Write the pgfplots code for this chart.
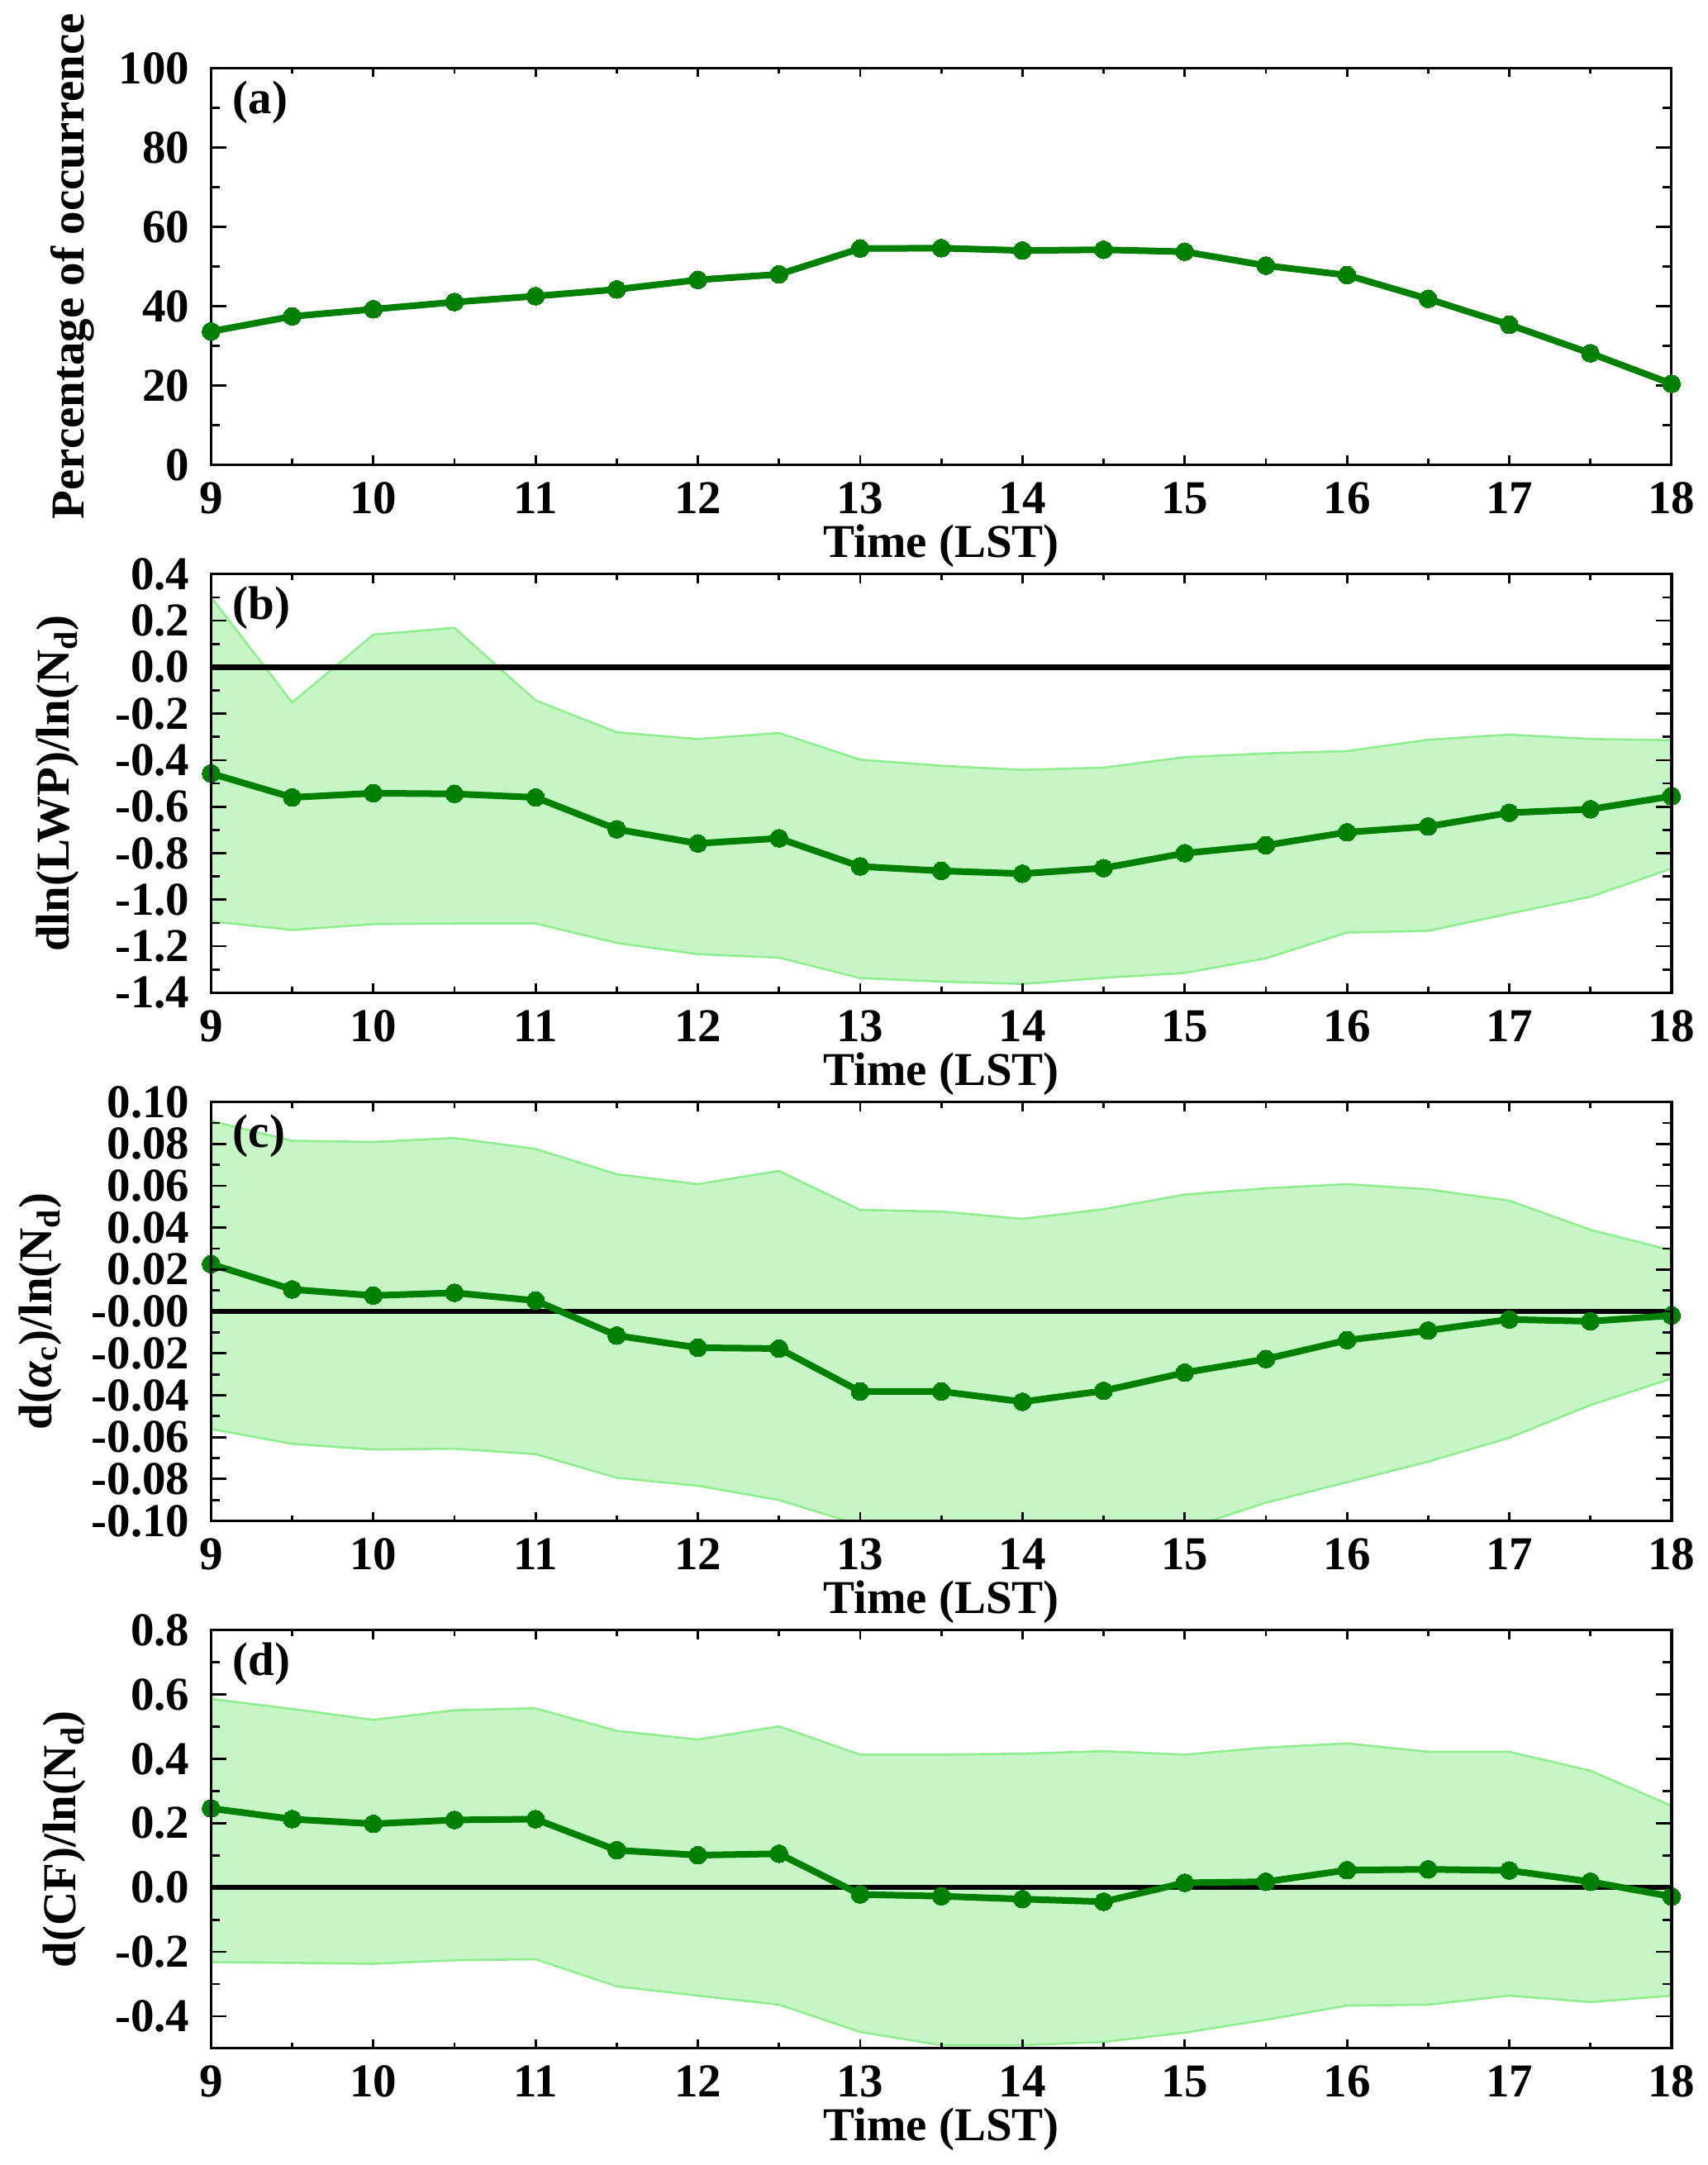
\documentclass[border=0pt]{standalone}
\usepackage{fontspec}
\setmainfont{Liberation Serif}
\usepackage{pgfplots}
\pgfplotsset{compat=1.18}
\usepackage{pgfplotstable}
\usepgfplotslibrary{fillbetween}

\definecolor{dgreen}{RGB}{0,128,0}
\definecolor{edgegreen}{RGB}{144,238,144}
\definecolor{fillgreen}{RGB}{198,246,198}

\newcommand{\bigfont}{\fontsize{28.5}{31}\selectfont\bfseries}

\pgfplotstableread{
t m
9 33.6
9.5 37.4
10 39.2
10.5 41.0
11 42.5
11.5 44.2
12 46.6
12.5 48.0
13 54.5
13.5 54.6
14 54.0
14.5 54.2
15 53.7
15.5 50.2
16 47.8
16.5 41.8
17 35.3
17.5 28.1
18 20.4
}\tba

\pgfplotstableread{
t m u l
9 -0.457 0.302 -1.093
9.5 -0.560 -0.152 -1.130
10 -0.542 0.140 -1.105
10.5 -0.545 0.169 -1.102
11 -0.560 -0.143 -1.102
11.5 -0.697 -0.280 -1.186
12 -0.758 -0.309 -1.234
12.5 -0.736 -0.283 -1.249
13 -0.857 -0.398 -1.337
13.5 -0.876 -0.424 -1.352
14 -0.888 -0.442 -1.362
14.5 -0.864 -0.432 -1.336
15 -0.800 -0.387 -1.315
15.5 -0.766 -0.371 -1.252
16 -0.710 -0.361 -1.141
16.5 -0.685 -0.312 -1.134
17 -0.626 -0.290 -1.060
17.5 -0.611 -0.309 -0.987
18 -0.555 -0.314 -0.866
}\tbb

\pgfplotstableread{
t m u l
9 0.0226 0.0910 -0.0561
9.5 0.0105 0.0815 -0.0632
10 0.0076 0.0809 -0.0659
10.5 0.0089 0.0828 -0.0655
11 0.0052 0.0776 -0.0681
11.5 -0.0115 0.0655 -0.0794
12 -0.0173 0.0608 -0.0832
12.5 -0.0177 0.0671 -0.0900
13 -0.0382 0.0485 -0.1020
13.5 -0.0382 0.0477 -0.1060
14 -0.0431 0.0442 -0.1090
14.5 -0.0379 0.0488 -0.1080
15 -0.0292 0.0558 -0.1040
15.5 -0.0227 0.0588 -0.0913
16 -0.0137 0.0608 -0.0815
16.5 -0.0091 0.0583 -0.0717
17 -0.0038 0.0529 -0.0603
17.5 -0.0047 0.0390 -0.0447
18 -0.0019 0.0292 -0.0320
}\tbc

\pgfplotstableread{
t m u l
9 0.246 0.586 -0.232
9.5 0.2125 0.555 -0.234
10 0.198 0.521 -0.237
10.5 0.210 0.551 -0.226
11 0.2125 0.557 -0.223
11.5 0.116 0.487 -0.307
12 0.1006 0.460 -0.336
12.5 0.105 0.501 -0.364
13 -0.0215 0.413 -0.449
13.5 -0.027 0.413 -0.490
14 -0.036 0.416 -0.490
14.5 -0.044 0.424 -0.480
15 0.0147 0.413 -0.451
15.5 0.018 0.435 -0.411
16 0.054 0.448 -0.367
16.5 0.0565 0.422 -0.364
17 0.053 0.422 -0.336
17.5 0.018 0.363 -0.356
18 -0.028 0.254 -0.336
}\tbd

\pgfplotsset{
  panel/.style={
    scale only axis, width=883.75pt,
    anchor=south west,
    xmin=9, xmax=18,
    xtick={9,10,11,12,13,14,15,16,17,18},
    xticklabels={9,10,11,12,13,14,15,16,17,18},
    minor x tick num=1, minor y tick num=1,
    axis on top,
    axis line style={line width=1.6pt, black},
    tick style={line width=1.4pt, black},
    major tick length=9.5pt, minor tick length=5.5pt,
    xtick style={/pgfplots/major tick length=5.5pt, /pgfplots/minor tick length=3.5pt},
    tick label style={font=\bigfont},
    label style={font=\bigfont},
    yticklabel style={xshift=-9.5pt},
    xticklabel style={yshift=-7pt},
    xlabel={Time (LST)},
    xlabel style={at={(axis description cs:0.5,0)}, anchor=base, yshift=-56pt},
  },
  meanline/.style={dgreen, line width=4pt, mark=*, mark size=5.4pt,
    mark options={solid, fill=dgreen, draw=dgreen, line width=0pt}},
  edgeline/.style={edgegreen, line width=1.3pt},
  zeroline/.style={black, line width=3.2pt},
}

\newcommand{\plab}[1]{\node[anchor=base west, inner sep=0pt, font=\bigfont] at ([xshift=13pt, yshift=-27.5pt]rel axis cs:0,1) {#1};}

\begin{document}
\begin{tikzpicture}
\path (0,0) rectangle (1033.5pt,1310pt);

% (a)
\begin{axis}[panel, at={(127.7pt,1028.8pt)}, height=240pt,
  ymin=0, ymax=100,
  ytick={0,20,40,60,80,100}, yticklabels={0,20,40,60,80,100},
  ylabel={Percentage of occurrence},
  ylabel style={at={(axis description cs:-0.0868,0.5)}, anchor=base},
]
\addplot[meanline] table[x=t, y=m]{\tba};
\plab{(a)}
\end{axis}

% (b)
\begin{axis}[panel, at={(127.7pt,709.3pt)}, height=253.3pt,
  ymin=-1.4, ymax=0.4,
  ytick={-1.4,-1.2,-1.0,-0.8,-0.6,-0.4,-0.2,0,0.2,0.4},
  yticklabels={-1.4,-1.2,-1.0,-0.8,-0.6,-0.4,-0.2,0.0,0.2,0.4},
  ylabel={dln(LWP)/ln(N\textsubscript{d})},
  ylabel style={at={(axis description cs:-0.0975,0.5)}, anchor=base},
]
\addplot[edgeline, name path=U] table[x=t, y=u]{\tbb};
\addplot[edgeline, name path=L] table[x=t, y=l]{\tbb};
\addplot[fill=fillgreen, draw=none] fill between[of=U and L];
\addplot[zeroline] coordinates {(9,0) (18,0)};
\addplot[meanline] table[x=t, y=m]{\tbb};
\plab{(b)}
\end{axis}

% (c)
\begin{axis}[panel, at={(127.7pt,389.7pt)}, height=253.5pt,
  ymin=-0.1, ymax=0.1,
  ytick={-0.1,-0.08,-0.06,-0.04,-0.02,0,0.02,0.04,0.06,0.08,0.1},
  yticklabels={-0.10,-0.08,-0.06,-0.04,-0.02,-0.00,0.02,0.04,0.06,0.08,0.10},
  ylabel={d(\textit{α}\textsubscript{c})/ln(N\textsubscript{d})},
  ylabel style={at={(axis description cs:-0.1094,0.5)}, anchor=base},
]
\addplot[edgeline, name path=U] table[x=t, y=u]{\tbc};
\addplot[edgeline, name path=L] table[x=t, y=l]{\tbc};
\addplot[fill=fillgreen, draw=none] fill between[of=U and L];
\addplot[zeroline] coordinates {(9,0) (18,0)};
\addplot[meanline] table[x=t, y=m]{\tbc};
\plab{(c)}
\end{axis}

% (d)
\begin{axis}[panel, at={(127.7pt,70.55pt)}, height=253.1pt,
  ymin=-0.5, ymax=0.8,
  ytick={-0.4,-0.2,0,0.2,0.4,0.6,0.8},
  yticklabels={-0.4,-0.2,0.0,0.2,0.4,0.6,0.8},
  ylabel={d(CF)/ln(N\textsubscript{d})},
  ylabel style={at={(axis description cs:-0.0930,0.5)}, anchor=base},
]
\addplot[edgeline, name path=U] table[x=t, y=u]{\tbd};
\addplot[edgeline, name path=L] table[x=t, y=l]{\tbd};
\addplot[fill=fillgreen, draw=none] fill between[of=U and L];
\addplot[zeroline] coordinates {(9,0) (18,0)};
\addplot[meanline] table[x=t, y=m]{\tbd};
\plab{(d)}
\end{axis}
\end{tikzpicture}
\end{document}
